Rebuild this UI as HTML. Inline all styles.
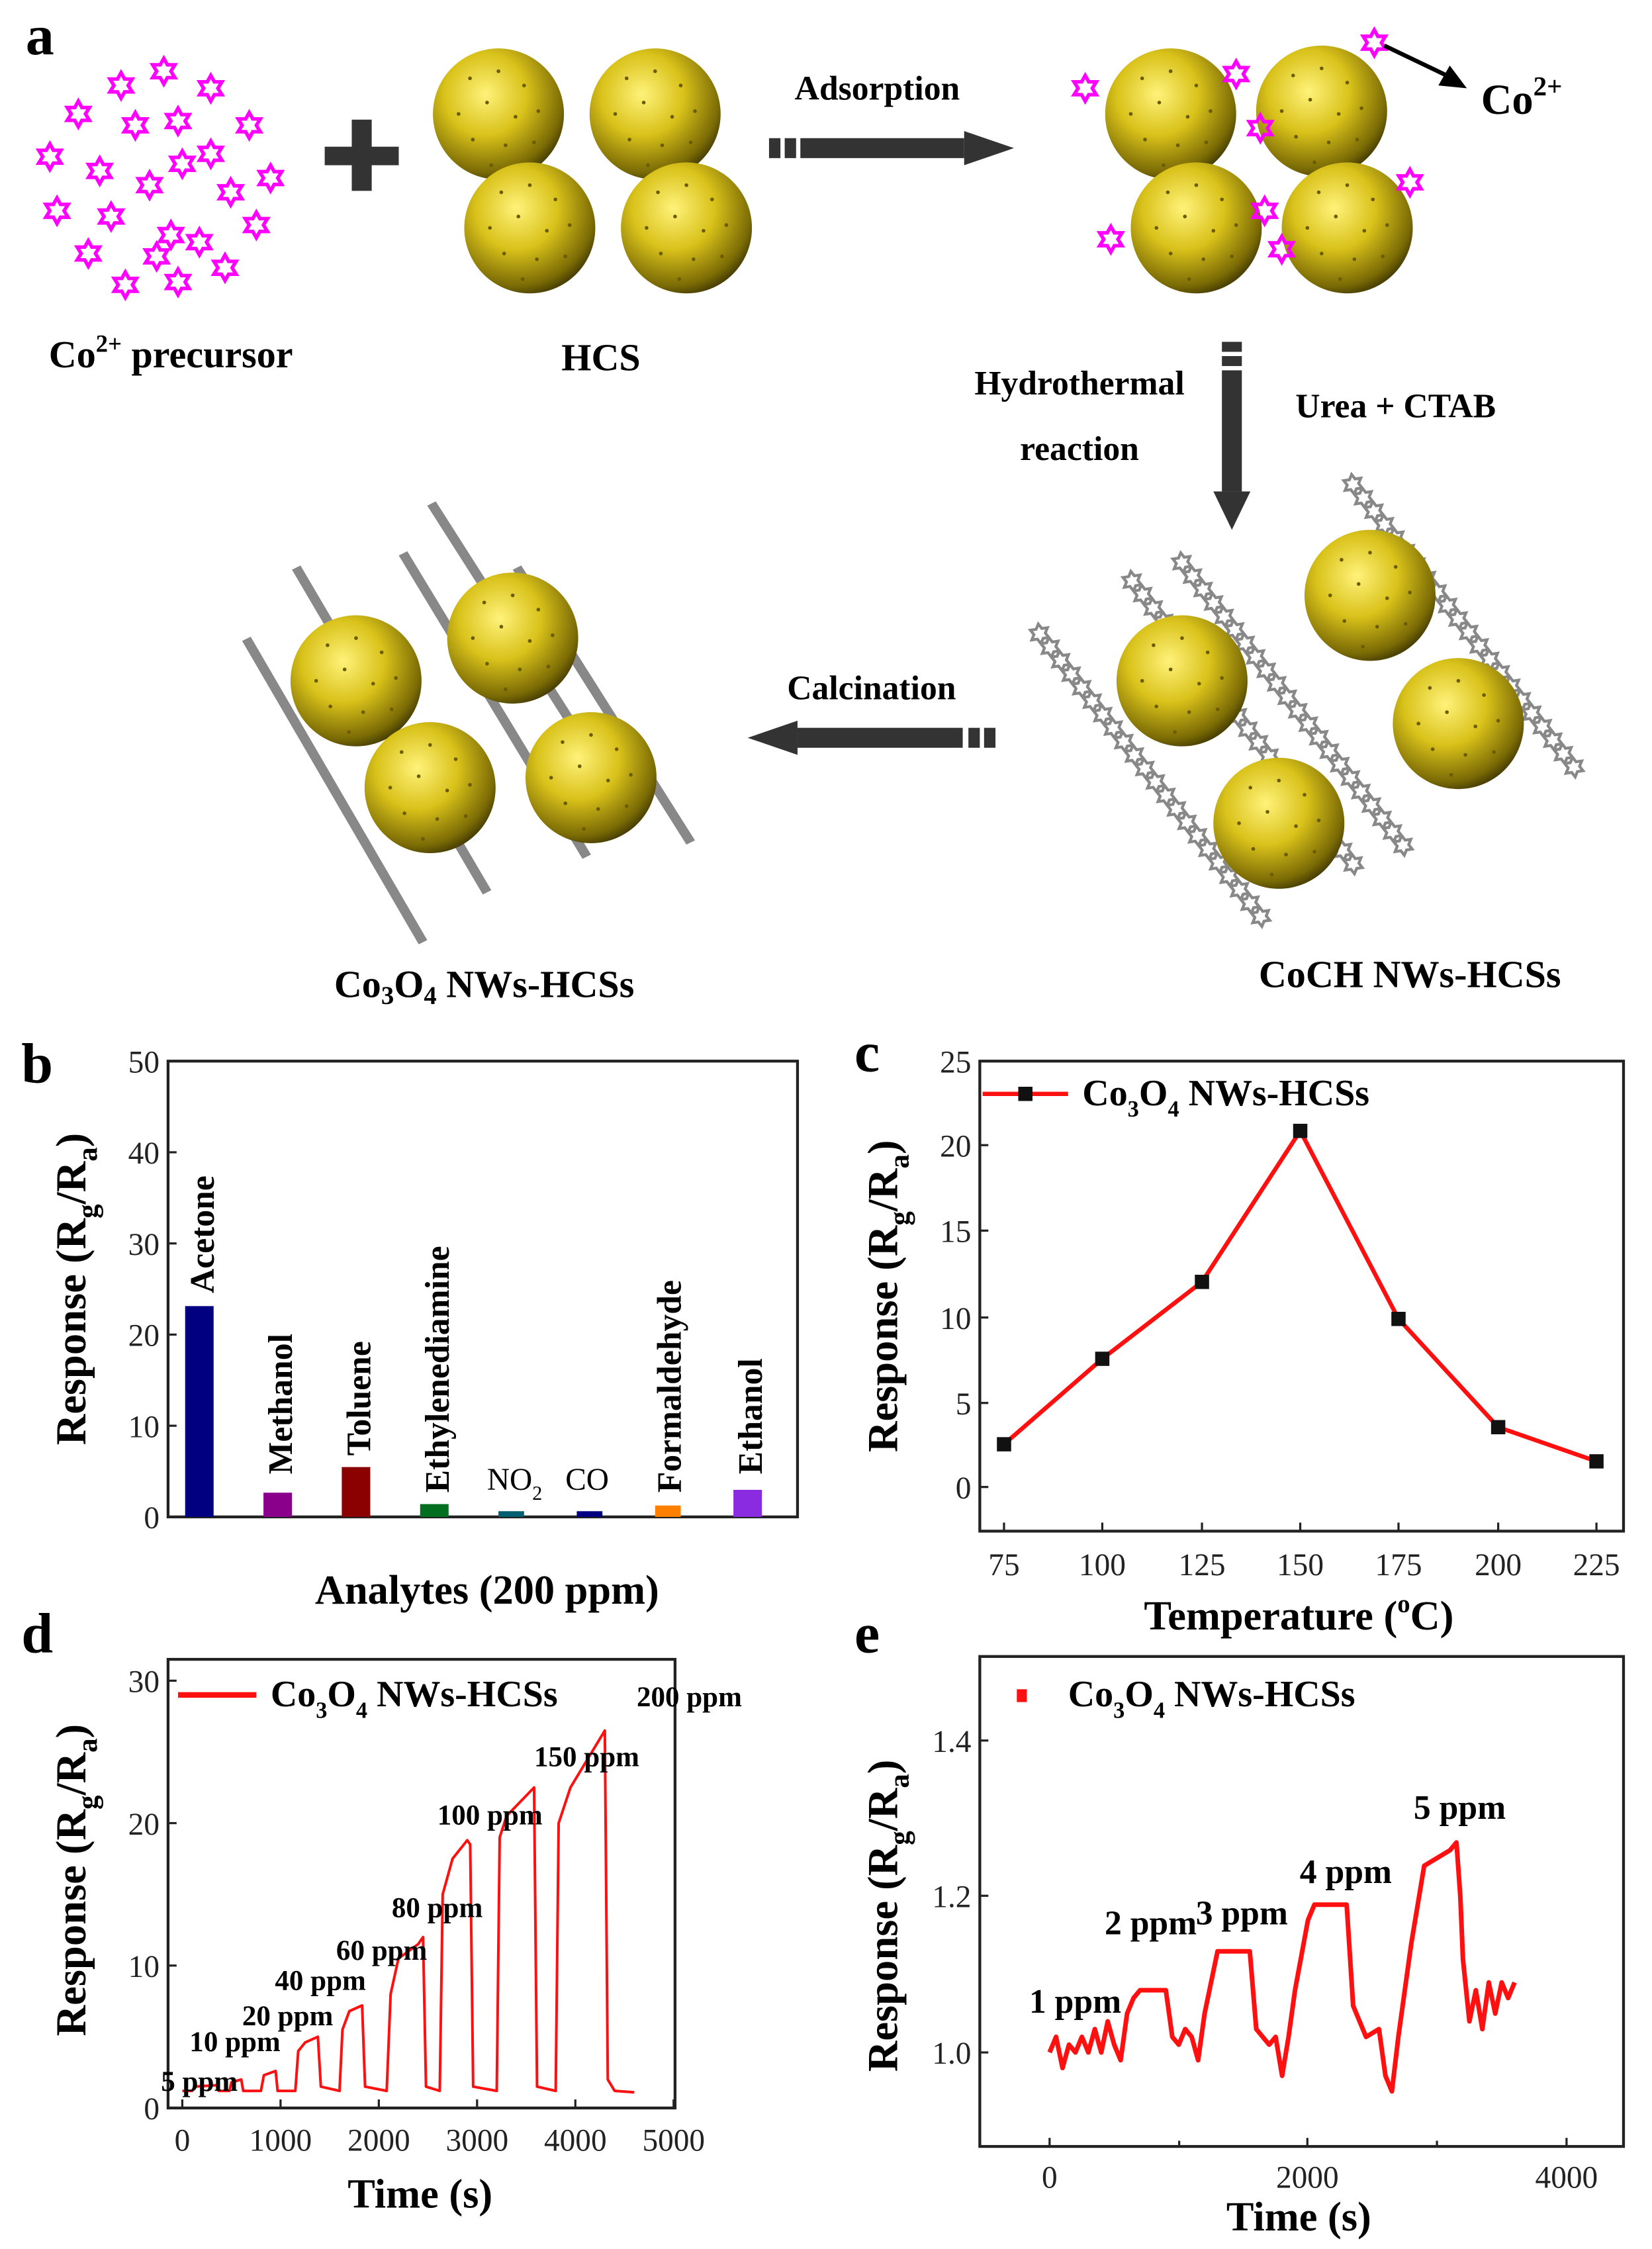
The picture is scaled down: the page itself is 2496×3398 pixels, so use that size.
<!DOCTYPE html>
<html><head><meta charset="utf-8">
<style>
html,body{margin:0;padding:0;background:#fff;}
svg{display:block;}
text{font-family:"Liberation Serif",serif;}
.b{font-weight:bold;}
</style></head>
<body>
<svg width="2496" height="3398" viewBox="0 0 1160 1579" preserveAspectRatio="none" xmlns="http://www.w3.org/2000/svg">
<defs>
<radialGradient id="sp" cx="0.4" cy="0.35" r="0.7">
<stop offset="0" stop-color="#fff27a"/><stop offset="0.45" stop-color="#d9c21a"/><stop offset="0.85" stop-color="#7a6a05"/><stop offset="1" stop-color="#3a3200"/>
</radialGradient>
<g id="ball"><circle r="46" fill="url(#sp)"/>
<g fill="#6b5c00"><circle cx="-20" cy="-25" r="1.3"/><circle cx="0" cy="-30" r="1.3"/><circle cx="18" cy="-20" r="1.3"/><circle cx="-28" cy="0" r="1.3"/><circle cx="-8" cy="-8" r="1.3"/><circle cx="12" cy="2" r="1.3"/><circle cx="28" cy="-2" r="1.3"/><circle cx="-18" cy="18" r="1.3"/><circle cx="5" cy="22" r="1.3"/><circle cx="25" cy="20" r="1.3"/><circle cx="-5" cy="36" r="1.3"/></g></g>
<g id="star"><polygon points="0,-9 2.5,-4.5 7.8,-4.5 5,0 7.8,4.5 2.5,4.5 0,9 -2.5,4.5 -7.8,4.5 -5,0 -7.8,-4.5 -2.5,-4.5" fill="none" stroke="#ff00ff" stroke-width="2.5"/></g>
<g id="gs"><polygon points="0,-7 2,-3.5 6,-3.5 4,0 6,3.5 2,3.5 0,7 -2,3.5 -6,3.5 -4,0 -6,-3.5 -2,-3.5" fill="none" stroke="#888" stroke-width="2"/></g>
<g id="chain"><use href="#gs" x="0"/><use href="#gs" x="12"/><use href="#gs" x="24"/><use href="#gs" x="36"/><use href="#gs" x="48"/><use href="#gs" x="60"/><use href="#gs" x="72"/><use href="#gs" x="84"/><use href="#gs" x="96"/><use href="#gs" x="108"/><use href="#gs" x="120"/><use href="#gs" x="132"/><use href="#gs" x="144"/><use href="#gs" x="156"/><use href="#gs" x="168"/><use href="#gs" x="180"/><use href="#gs" x="192"/><use href="#gs" x="204"/><use href="#gs" x="216"/><use href="#gs" x="228"/><use href="#gs" x="240"/><use href="#gs" x="252"/></g>
</defs>

<!-- Panel a -->
<text x="18" y="38" font-size="40" class="b">a</text>
<g>
<use href="#star" x="85" y="60"/><use href="#star" x="115" y="50"/><use href="#star" x="148" y="62"/><use href="#star" x="55" y="80"/><use href="#star" x="95" y="88"/><use href="#star" x="125" y="85"/><use href="#star" x="175" y="88"/><use href="#star" x="35" y="110"/><use href="#star" x="70" y="120"/><use href="#star" x="105" y="130"/><use href="#star" x="128" y="115"/><use href="#star" x="148" y="108"/><use href="#star" x="162" y="135"/><use href="#star" x="190" y="125"/><use href="#star" x="40" y="148"/><use href="#star" x="78" y="152"/><use href="#star" x="120" y="165"/><use href="#star" x="140" y="170"/><use href="#star" x="180" y="158"/><use href="#star" x="62" y="178"/><use href="#star" x="110" y="180"/><use href="#star" x="158" y="188"/><use href="#star" x="88" y="200"/><use href="#star" x="125" y="198"/>
</g>
<g fill="#333"><rect x="228" y="103" width="52" height="13"/><rect x="247" y="84" width="14" height="50"/></g>
<use href="#ball" x="350" y="80"/><use href="#ball" x="460" y="80"/><use href="#ball" x="372" y="160"/><use href="#ball" x="482" y="160"/>
<text x="120" y="258" font-size="27" class="b" text-anchor="middle">Co<tspan font-size="17" dy="-11">2+</tspan><tspan dy="11"> precursor</tspan></text>
<text x="422" y="260" font-size="27" class="b" text-anchor="middle">HCS</text>
<text x="616" y="70" font-size="24" class="b" text-anchor="middle">Adsorption</text>
<g fill="#333"><rect x="540" y="97" width="8" height="14"/><rect x="551" y="97" width="8" height="14"/><rect x="562" y="97" width="115" height="14"/><polygon points="677,92 712,104 677,116"/></g>
<use href="#ball" x="822" y="80"/><use href="#ball" x="928" y="78"/><use href="#ball" x="840" y="160"/><use href="#ball" x="946" y="160"/>
<use href="#star" x="762" y="62"/><use href="#star" x="868" y="52"/><use href="#star" x="885" y="90"/><use href="#star" x="965" y="30"/><use href="#star" x="990" y="128"/><use href="#star" x="888" y="148"/><use href="#star" x="780" y="168"/><use href="#star" x="900" y="175"/>
<line x1="972" y1="32" x2="1020" y2="55" stroke="#000" stroke-width="3"/><polygon points="1030,62 1010,60 1018,46" fill="#000"/>
<text x="1040" y="80" font-size="30" class="b">Co<tspan font-size="19" dy="-13">2+</tspan></text>
<g fill="#333"><rect x="858" y="240" width="14" height="7"/><rect x="858" y="250" width="14" height="7"/><rect x="858" y="260" width="14" height="85"/><polygon points="852,345 878,345 865,372"/></g>
<text x="758" y="277" font-size="24" class="b" text-anchor="middle">Hydrothermal</text>
<text x="758" y="323" font-size="24" class="b" text-anchor="middle">reaction</text>
<text x="980" y="293" font-size="24" class="b" text-anchor="middle">Urea + CTAB</text>
<g transform="translate(950,340) rotate(52)"><use href="#chain"/></g>
<g transform="translate(830,395) rotate(52)"><use href="#chain"/></g>
<g transform="translate(795,408) rotate(52)"><use href="#chain"/></g>
<g transform="translate(730,445) rotate(52)"><use href="#chain"/></g>
<use href="#ball" x="962" y="418"/><use href="#ball" x="830" y="478"/><use href="#ball" x="1024" y="508"/><use href="#ball" x="898" y="578"/>
<text x="612" y="491" font-size="24" class="b" text-anchor="middle">Calcination</text>
<g fill="#333"><polygon points="525,518 560,506 560,530"/><rect x="560" y="511" width="116" height="14"/><rect x="680" y="511" width="8" height="14"/><rect x="691" y="511" width="8" height="14"/></g>
<g fill="#888"><polygon points="170,450 176,447 300,660 294,663"/><polygon points="205,400 211,397 345,625 339,628"/><polygon points="280,390 286,387 415,600 409,603"/><polygon points="300,355 306,352 445,570 439,573"/><polygon points="360,400 366,397 488,590 482,593"/></g>
<use href="#ball" x="250" y="478"/><use href="#ball" x="360" y="448"/><use href="#ball" x="302" y="553"/><use href="#ball" x="415" y="546"/>
<text x="340" y="700" font-size="27" class="b" text-anchor="middle">Co<tspan font-size="18" dy="5">3</tspan><tspan dy="-5">O</tspan><tspan font-size="18" dy="5">4</tspan><tspan dy="-5"> NWs-HCSs</tspan></text>
<text x="990" y="693" font-size="27" class="b" text-anchor="middle">CoCH NWs-HCSs</text>

<!-- Panel b -->
<text x="15" y="760" font-size="40" class="b">b</text>
<rect x="118" y="745" width="442" height="320" fill="none" stroke="#222" stroke-width="2"/>
<g font-size="22" text-anchor="end" fill="#222"><text x="112" y="753">50</text><text x="112" y="817">40</text><text x="112" y="881">30</text><text x="112" y="945">20</text><text x="112" y="1009">10</text><text x="112" y="1073">0</text></g>
<g stroke="#222" stroke-width="1.5"><line x1="118" y1="809" x2="124" y2="809"/><line x1="118" y1="873" x2="124" y2="873"/><line x1="118" y1="937" x2="124" y2="937"/><line x1="118" y1="1001" x2="124" y2="1001"/></g>
<rect x="130" y="917" width="20" height="148" fill="#000080"/>
<rect x="185" y="1048" width="20" height="17" fill="#8b008b"/>
<rect x="240" y="1030" width="20" height="35" fill="#8b0000"/>
<rect x="295" y="1056" width="20" height="9" fill="#007020"/>
<rect x="350" y="1061" width="18" height="4" fill="#006070"/>
<rect x="405" y="1061" width="18" height="4" fill="#000080"/>
<rect x="460" y="1057" width="18" height="8" fill="#ff8000"/>
<rect x="515" y="1046" width="20" height="19" fill="#8a2be2"/>
<g font-size="24" class="b">
<text transform="translate(150,908) rotate(-90)">Acetone</text>
<text transform="translate(205,1035) rotate(-90)">Methanol</text>
<text transform="translate(260,1022) rotate(-90)">Toluene</text>
<text transform="translate(315,1048) rotate(-90)">Ethylenediamine</text>
<text transform="translate(478,1048) rotate(-90)">Formaldehyde</text>
<text transform="translate(535,1035) rotate(-90)">Ethanol</text>
</g>
<text x="342" y="1046" font-size="22">NO<tspan font-size="14" dy="7">2</tspan></text>
<text x="397" y="1046" font-size="22">CO</text>
<text transform="translate(60,905) rotate(-90)" font-size="30" class="b" text-anchor="middle">Response (R<tspan font-size="20" dy="8">g</tspan><tspan dy="-8">/R</tspan><tspan font-size="20" dy="8">a</tspan><tspan dy="-8">)</tspan></text>
<text x="342" y="1126" font-size="29" class="b" text-anchor="middle">Analytes (200 ppm)</text>

<!-- Panel c -->
<text x="600" y="752" font-size="40" class="b">c</text>
<rect x="688" y="745" width="452" height="330" fill="none" stroke="#222" stroke-width="2"/>
<g font-size="22" text-anchor="end" fill="#222"><text x="682" y="753">25</text><text x="682" y="812">20</text><text x="682" y="872">15</text><text x="682" y="933">10</text><text x="682" y="993">5</text><text x="682" y="1052">0</text></g>
<g stroke="#222" stroke-width="1.5"><line x1="688" y1="804" x2="694" y2="804"/><line x1="688" y1="864" x2="694" y2="864"/><line x1="688" y1="925" x2="694" y2="925"/><line x1="688" y1="985" x2="694" y2="985"/><line x1="688" y1="1044" x2="694" y2="1044"/>
<line x1="705" y1="1075" x2="705" y2="1069"/><line x1="774" y1="1075" x2="774" y2="1069"/><line x1="844" y1="1075" x2="844" y2="1069"/><line x1="913" y1="1075" x2="913" y2="1069"/><line x1="982" y1="1075" x2="982" y2="1069"/><line x1="1052" y1="1075" x2="1052" y2="1069"/><line x1="1121" y1="1075" x2="1121" y2="1069"/></g>
<g font-size="22" text-anchor="middle" fill="#222"><text x="705" y="1106">75</text><text x="774" y="1106">100</text><text x="844" y="1106">125</text><text x="913" y="1106">150</text><text x="982" y="1106">175</text><text x="1052" y="1106">200</text><text x="1121" y="1106">225</text></g>
<polyline points="705,1014 774,954 844,900 913,794 982,926 1052,1002 1121,1026" fill="none" stroke="#ff1010" stroke-width="3"/>
<g fill="#111"><rect x="700" y="1009" width="10" height="10"/><rect x="769" y="949" width="10" height="10"/><rect x="839" y="895" width="10" height="10"/><rect x="908" y="789" width="10" height="10"/><rect x="977" y="921" width="10" height="10"/><rect x="1047" y="997" width="10" height="10"/><rect x="1116" y="1021" width="10" height="10"/></g>
<line x1="690" y1="768" x2="750" y2="768" stroke="#ff1010" stroke-width="3"/><rect x="715" y="763" width="10" height="10" fill="#111"/>
<text x="760" y="776" font-size="26" class="b">Co<tspan font-size="16" dy="8">3</tspan><tspan dy="-8">O</tspan><tspan font-size="16" dy="8">4</tspan><tspan dy="-8"> NWs-HCSs</tspan></text>
<text transform="translate(630,910) rotate(-90)" font-size="30" class="b" text-anchor="middle">Response (R<tspan font-size="20" dy="8">g</tspan><tspan dy="-8">/R</tspan><tspan font-size="20" dy="8">a</tspan><tspan dy="-8">)</tspan></text>
<text x="912" y="1144" font-size="29" class="b" text-anchor="middle">Temperature (<tspan font-size="18" dy="-12">o</tspan><tspan dy="12">C)</tspan></text>

<!-- Panel d -->
<text x="15" y="1160" font-size="40" class="b">d</text>
<rect x="118" y="1165" width="356" height="315" fill="none" stroke="#222" stroke-width="2"/>
<g font-size="22" text-anchor="end" fill="#222"><text x="112" y="1188">30</text><text x="112" y="1288">20</text><text x="112" y="1388">10</text><text x="112" y="1488">0</text></g>
<g stroke="#222" stroke-width="1.5"><line x1="118" y1="1180" x2="124" y2="1180"/><line x1="118" y1="1280" x2="124" y2="1280"/><line x1="118" y1="1380" x2="124" y2="1380"/>
<line x1="128" y1="1480" x2="128" y2="1474"/><line x1="197" y1="1480" x2="197" y2="1474"/><line x1="266" y1="1480" x2="266" y2="1474"/><line x1="335" y1="1480" x2="335" y2="1474"/><line x1="404" y1="1480" x2="404" y2="1474"/><line x1="473" y1="1480" x2="473" y2="1474"/></g>
<g font-size="22" text-anchor="middle" fill="#222"><text x="128" y="1510">0</text><text x="197" y="1510">1000</text><text x="266" y="1510">2000</text><text x="335" y="1510">3000</text><text x="404" y="1510">4000</text><text x="473" y="1510">5000</text></g>
<g transform="translate(128,1480) scale(0.069,-10)">
<path d="M0,1.2 L100,1.2 L130,1.5 L350,1.6 L370,1.2 L480,1.2 L500,1.8 L600,2.0 L620,1.2 L800,1.2 L830,2.3 L950,2.6 L970,1.2 L1150,1.2 L1180,4 L1250,4.6 L1380,5 L1410,1.5 L1600,1.2 L1630,5.5 L1700,6.8 L1830,7.2 L1860,1.5 L2080,1.2 L2120,8 L2200,10.5 L2400,11.5 L2450,12 L2480,1.5 L2620,1.2 L2650,15 L2750,17.5 L2900,18.8 L2930,18.5 L2960,1.5 L3200,1.2 L3230,19 L3300,20.5 L3580,22.5 L3610,1.5 L3800,1.2 L3830,20 L3950,22.5 L4300,26.5 L4330,2 L4400,1.2 L4600,1.1" fill="none" stroke="#ff1010" stroke-width="4" stroke-linejoin="round" vector-effect="non-scaling-stroke"/>
</g>
<line x1="125" y1="1190" x2="180" y2="1190" stroke="#ff1010" stroke-width="4"/>
<text x="190" y="1198" font-size="26" class="b">Co<tspan font-size="16" dy="8">3</tspan><tspan dy="-8">O</tspan><tspan font-size="16" dy="8">4</tspan><tspan dy="-8"> NWs-HCSs</tspan></text>
<g font-size="20" class="b" text-anchor="middle">
<text x="140" y="1468">5 ppm</text><text x="165" y="1440">10 ppm</text><text x="202" y="1422">20 ppm</text><text x="225" y="1397">40 ppm</text><text x="268" y="1376">60 ppm</text><text x="307" y="1346">80 ppm</text><text x="344" y="1281">100 ppm</text><text x="412" y="1240">150 ppm</text><text x="484" y="1198">200 ppm</text>
</g>
<text transform="translate(60,1320) rotate(-90)" font-size="30" class="b" text-anchor="middle">Response (R<tspan font-size="20" dy="8">g</tspan><tspan dy="-8">/R</tspan><tspan font-size="20" dy="8">a</tspan><tspan dy="-8">)</tspan></text>
<text x="295" y="1550" font-size="29" class="b" text-anchor="middle">Time (s)</text>

<!-- Panel e -->
<text x="600" y="1160" font-size="40" class="b">e</text>
<rect x="688" y="1163" width="452" height="344" fill="none" stroke="#222" stroke-width="2"/>
<g font-size="22" text-anchor="end" fill="#222"><text x="682" y="1230">1.4</text><text x="682" y="1339">1.2</text><text x="682" y="1449">1.0</text></g>
<g stroke="#222" stroke-width="1.5"><line x1="688" y1="1222" x2="694" y2="1222"/><line x1="688" y1="1331" x2="694" y2="1331"/><line x1="688" y1="1441" x2="694" y2="1441"/>
<line x1="737" y1="1507" x2="737" y2="1501"/><line x1="828" y1="1507" x2="828" y2="1503"/><line x1="918" y1="1507" x2="918" y2="1501"/><line x1="1009" y1="1507" x2="1009" y2="1503"/><line x1="1100" y1="1507" x2="1100" y2="1501"/></g>
<g font-size="22" text-anchor="middle" fill="#222"><text x="737" y="1536">0</text><text x="918" y="1536">2000</text><text x="1100" y="1536">4000</text></g>
<g transform="translate(737,1441) scale(0.0907,-546)">
<path d="M0,0 L50,0.02 L100,-0.02 L150,0.01 L200,0 L250,0.02 L300,0 L350,0.03 L400,0 L450,0.04 L500,0.01 L550,-0.01 L600,0.05 L650,0.07 L700,0.08 L900,0.08 L950,0.02 L1000,0.01 L1050,0.03 L1100,0.02 L1150,-0.01 L1200,0.05 L1300,0.13 L1550,0.13 L1600,0.03 L1700,0.01 L1750,0.02 L1800,-0.03 L1850,0.02 L1900,0.08 L2000,0.17 L2050,0.19 L2300,0.19 L2350,0.06 L2450,0.02 L2550,0.03 L2600,-0.03 L2650,-0.05 L2700,0.02 L2800,0.14 L2900,0.24 L3000,0.25 L3100,0.26 L3150,0.27 L3180,0.2 L3200,0.12 L3250,0.04 L3300,0.08 L3350,0.03 L3400,0.09 L3450,0.05 L3500,0.09 L3550,0.07 L3600,0.09" fill="none" stroke="#ff1010" stroke-width="7" stroke-linejoin="round" vector-effect="non-scaling-stroke"/>
</g>
<rect x="714" y="1186" width="7" height="9" fill="#ff1010"/>
<text x="750" y="1198" font-size="26" class="b">Co<tspan font-size="16" dy="8">3</tspan><tspan dy="-8">O</tspan><tspan font-size="16" dy="8">4</tspan><tspan dy="-8"> NWs-HCSs</tspan></text>
<g font-size="24" class="b" text-anchor="middle">
<text x="755" y="1413">1 ppm</text><text x="808" y="1358">2 ppm</text><text x="872" y="1351">3 ppm</text><text x="945" y="1322">4 ppm</text><text x="1025" y="1277">5 ppm</text>
</g>
<text transform="translate(630,1345) rotate(-90)" font-size="30" class="b" text-anchor="middle">Response (R<tspan font-size="20" dy="8">g</tspan><tspan dy="-8">/R</tspan><tspan font-size="20" dy="8">a</tspan><tspan dy="-8">)</tspan></text>
<text x="912" y="1566" font-size="29" class="b" text-anchor="middle">Time (s)</text>
</svg>
</body></html>
